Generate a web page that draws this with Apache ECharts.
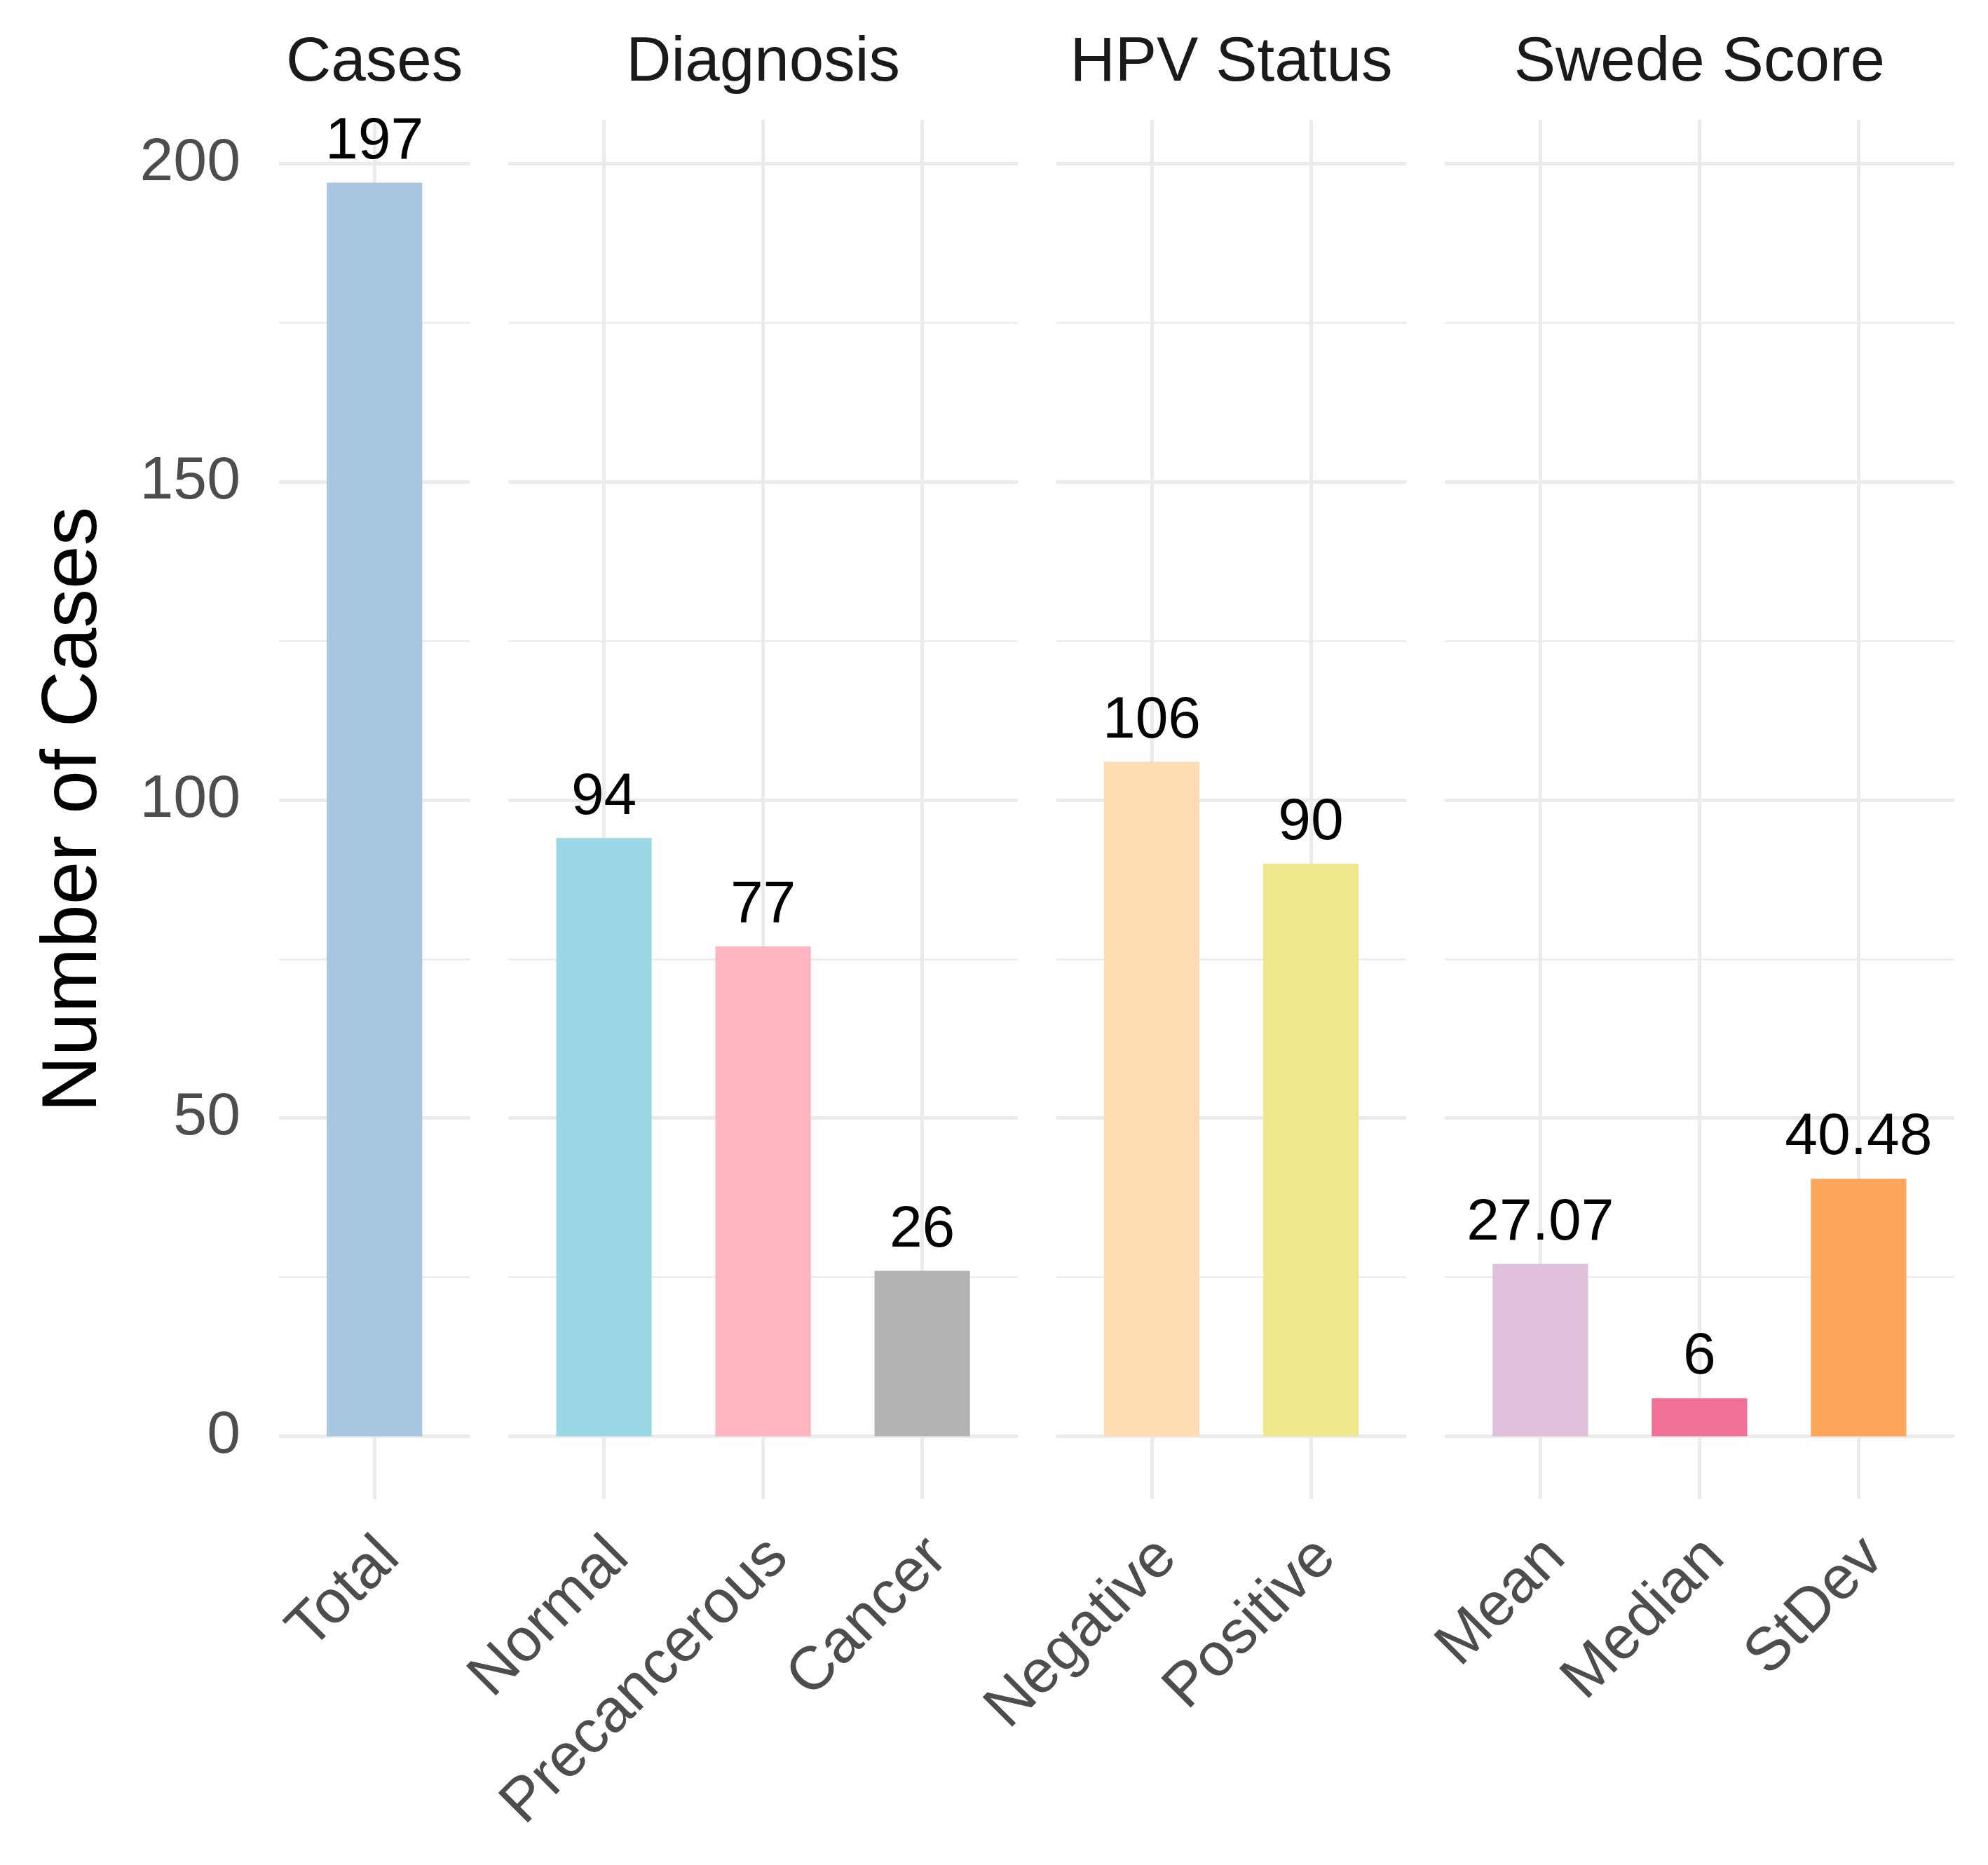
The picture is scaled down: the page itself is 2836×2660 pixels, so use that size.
<!DOCTYPE html>
<html>
<head>
<meta charset="utf-8">
<script src="https://cdn.jsdelivr.net/npm/echarts@6/dist/echarts.min.js"></script>
<style>
html,body{margin:0;padding:0;background:#fff;}
#chart{width:2836px;height:2660px;}
</style>
</head>
<body>
<div id="chart"></div>
<script>
// ---- data ----
const groupNames = ['Cases', 'Diagnosis', 'HPV Status', 'Swede Score'];
const casesCats = ['Total'];
const casesVals = [197];
const diagnosisCats = ['Normal', 'Precancerous', 'Cancer'];
const diagnosisVals = [94, 77, 26];
const hpvCats = ['Negative', 'Positive'];
const hpvVals = [106, 90];
const swedeCats = ['Mean', 'Median', 'StDev'];
const swedeVals = [27.07, 6, 40.48];
const yMajorTicks = [0, 50, 100, 150, 200];
const yMinorTicks = [25, 75, 125, 175];
const yTitle = 'Number of Cases';

// ---- styles ----
const casesColors = ['#a8c6e0'];
const diagnosisColors = ['#9ad8e5', '#ffb5c1', '#b3b3b3'];
const hpvColors = ['#fddcb2', '#f0e68c'];
const swedeColors = ['#dec0da', '#f07096', '#fea55c'];

(function () {
const groups = [
  {cats: casesCats, vals: casesVals, colors: casesColors},
  {cats: diagnosisCats, vals: diagnosisVals, colors: diagnosisColors},
  {cats: hpvCats, vals: hpvVals, colors: hpvColors},
  {cats: swedeCats, vals: swedeVals, colors: swedeColors}
];

const FONT = "'Liberation Sans', Arial, Helvetica, sans-serif";
const unit = 227, gapPx = 55, left0 = 398, gridTop = 171, gridHeight = 1967;
const expand = 0.6;
const yMin = -9.85, yMax = 206.85;

const grids = [], xAxes = [], yAxes = [], series = [];
let xPos = left0;
groups.forEach((g, i) => {
  const n = g.cats.length;
  const w = (n - 1 + 2 * expand) * unit;
  grids.push({left: xPos, top: gridTop, width: w, height: gridHeight, containLabel: false});
  xPos += w + gapPx;
  const idx = g.cats.map((c, k) => k);
  xAxes.push({
    type: 'value', gridIndex: i, min: -expand, max: n - 1 + expand, position: 'bottom',
    axisLine: {show: false},
    axisTick: {show: false, customValues: idx},
    axisLabel: {
      customValues: idx, rotate: 45, margin: 92, fontSize: 87, color: '#4d4d4d', fontFamily: FONT,
      padding: [0, -31, 0, 0],
      formatter: v => g.cats[Math.round(v)]
    },
    splitLine: {show: true, lineStyle: {color: '#ebebeb', width: 5}}
  });
  xAxes.push({
    type: 'value', gridIndex: i, min: -expand, max: n - 1 + expand, position: 'top',
    axisLine: {show: false}, axisTick: {show: false}, axisLabel: {show: false}, splitLine: {show: false},
    name: groupNames[i], nameLocation: 'middle', nameGap: 36,
    nameTextStyle: {fontSize: 89, color: '#1a1a1a', fontFamily: FONT}
  });
  yAxes.push({
    type: 'value', gridIndex: i, min: yMin, max: yMax, position: 'left',
    axisLine: {show: false},
    axisTick: {show: false, customValues: yMajorTicks},
    axisLabel: {show: i === 0, customValues: yMajorTicks, fontSize: 86, color: '#4d4d4d', margin: 55, fontFamily: FONT},
    splitLine: {show: true, lineStyle: {color: '#ebebeb', width: 5}},
    name: i === 0 ? yTitle : '', nameLocation: 'middle', nameGap: 236, nameRotate: 90,
    nameTextStyle: {fontSize: 111, color: '#000', fontFamily: FONT}
  });
  yAxes.push({
    type: 'value', gridIndex: i, min: yMin, max: yMax, position: 'left',
    axisLine: {show: false},
    axisTick: {show: false, customValues: yMinorTicks},
    axisLabel: {show: false, customValues: yMinorTicks},
    splitLine: {show: true, lineStyle: {color: '#eeeeee', width: 3}}
  });
  series.push({
    type: 'bar', xAxisIndex: 2 * i, yAxisIndex: 2 * i,
    barWidth: expand * unit,
    data: g.vals.map((v, k) => ({value: [k, v], itemStyle: {color: g.colors[k]}})),
    label: {
      show: true, position: 'top', distance: 16, fontSize: 84, color: '#000', fontFamily: FONT,
      formatter: p => String(p.value[1])
    },
    silent: true, animation: false
  });
});

const chart = echarts.init(document.getElementById('chart'), null, {renderer: 'canvas'});
chart.setOption({
  backgroundColor: '#ffffff',
  animation: false,
  grid: grids,
  xAxis: xAxes,
  yAxis: yAxes,
  series: series
});
})();
</script>
</body>
</html>
